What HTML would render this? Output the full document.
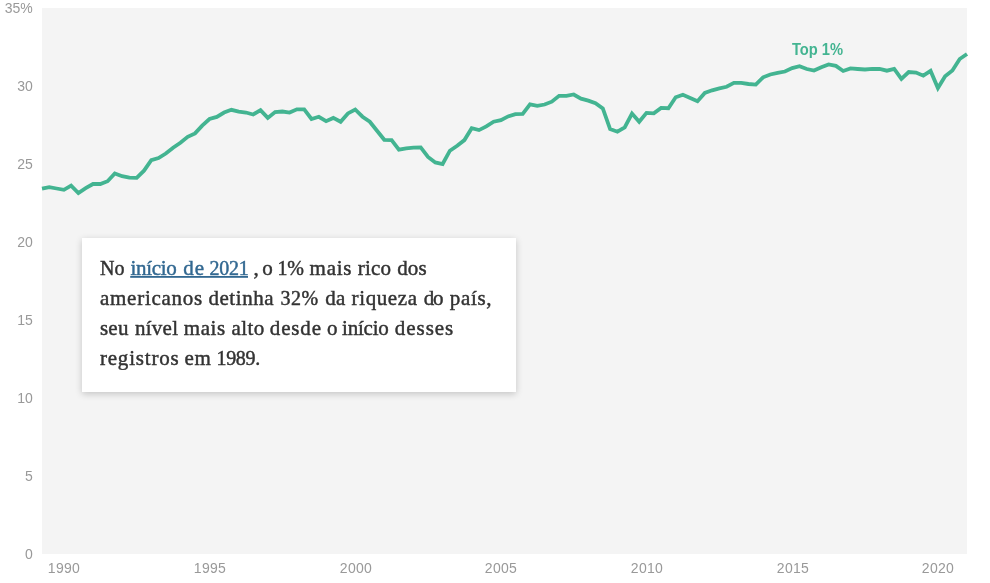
<!DOCTYPE html>
<html><head><meta charset="utf-8"><title>Top 1%</title>
<style>
html,body{margin:0;padding:0;background:#fff;}
body{width:990px;height:583px;position:relative;overflow:hidden;-webkit-font-smoothing:antialiased;font-family:"Liberation Sans",sans-serif;}
#plot{position:absolute;left:42px;top:8px;width:925px;height:546px;background:#f4f4f4;}
.yl{position:absolute;left:0;width:32.8px;text-align:right;font-size:14px;line-height:16px;height:16px;color:#999;margin-top:-8px;}
.xl{position:absolute;top:560px;width:60px;margin-left:-30.35px;text-align:center;font-size:14px;line-height:16px;color:#999;letter-spacing:0.33px;}
svg{position:absolute;left:0;top:0;}
.yl,.xl,#lbl,#ann{will-change:transform;}
#lbl{position:absolute;left:791px;top:40px;font-size:14.5px;line-height:17px;font-weight:bold;color:#43b491;white-space:nowrap;letter-spacing:-0.1px;}
#box{position:absolute;left:82px;top:238px;width:434px;height:154px;background:#fff;box-shadow:0 2px 7px rgba(0,0,0,0.2);}
#ann text{font-family:"Liberation Serif",serif;stroke-width:0.45px;}
#ann #lb{stroke-width:0;}
</style></head><body>
<div id="plot"></div>
<div class="yl" style="top:8px">35%</div>
<div class="yl" style="top:86px">30</div>
<div class="yl" style="top:164px">25</div>
<div class="yl" style="top:242px">20</div>
<div class="yl" style="top:320px">15</div>
<div class="yl" style="top:398px">10</div>
<div class="yl" style="top:476px">5</div>
<div class="yl" style="top:554px">0</div>
<div class="xl" style="left:64.8px">1990</div>
<div class="xl" style="left:210.5px">1995</div>
<div class="xl" style="left:356.1px">2000</div>
<div class="xl" style="left:501.8px">2005</div>
<div class="xl" style="left:647.4px">2010</div>
<div class="xl" style="left:793.1px">2015</div>
<div class="xl" style="left:938.7px">2020</div>
<svg width="990" height="583" viewBox="0 0 990 583"><polyline fill="none" stroke="#43b491" stroke-width="3.8" stroke-linejoin="miter" stroke-linecap="butt" points="42.0,188.7 49.3,187.2 56.6,188.5 63.9,189.8 71.1,185.7 78.4,193.0 85.7,188.2 93.0,184.0 100.3,184.0 107.6,181.2 114.8,173.4 122.1,176.2 129.4,177.6 136.7,177.9 144.0,170.7 151.3,160.2 158.5,158.0 165.8,153.5 173.1,147.7 180.4,142.7 187.7,136.8 195.0,133.4 202.2,125.6 209.5,119.0 216.8,116.9 224.1,112.5 231.4,109.8 238.7,111.7 245.9,112.5 253.2,114.5 260.5,110.1 267.8,117.9 275.1,112.1 282.4,111.5 289.6,112.6 296.9,109.3 304.2,109.3 311.5,119.0 318.8,116.8 326.1,121.2 333.3,117.9 340.6,121.8 347.9,113.4 355.2,109.5 362.5,116.7 369.8,121.7 377.0,130.7 384.3,139.8 391.6,140.1 398.9,149.6 406.2,148.3 413.5,147.7 420.7,147.4 428.0,156.9 435.3,162.4 442.6,164.0 449.9,150.7 457.2,145.7 464.4,140.1 471.7,128.2 479.0,130.1 486.3,126.4 493.6,121.7 500.9,120.1 508.1,116.4 515.4,114.1 522.7,113.8 530.0,104.3 537.3,105.9 544.6,104.5 551.8,101.7 559.1,95.8 566.4,95.8 573.7,94.5 581.0,98.7 588.3,100.6 595.5,103.2 602.8,108.4 610.1,129.1 617.4,131.7 624.7,127.5 632.0,113.5 639.2,121.8 646.5,112.9 653.8,113.3 661.1,107.9 668.4,108.2 675.7,97.3 682.9,94.7 690.2,97.9 697.5,101.2 704.8,92.9 712.1,90.3 719.4,88.3 726.6,86.8 733.9,82.9 741.2,82.9 748.5,84.0 755.8,84.6 763.1,77.3 770.3,74.5 777.6,72.9 784.9,71.5 792.2,68.1 799.5,66.2 806.8,69.0 814.0,70.6 821.3,67.3 828.6,64.5 835.9,65.9 843.2,71.0 850.5,68.4 857.7,69.0 865.0,69.5 872.3,68.8 879.6,69.0 886.9,70.7 894.2,69.0 901.4,78.8 908.7,72.0 916.0,72.6 923.3,75.7 930.6,70.9 937.9,88.0 945.1,76.2 952.4,70.5 959.7,59.0 967.0,54.0"/></svg>
<div id="box"></div>
<svg id="ann" width="990" height="583" viewBox="0 0 990 583">
<text id="lb" x="791.9" y="54.8" font-size="16.1" font-weight="bold" fill="#43b491" textLength="51.2" lengthAdjust="spacingAndGlyphs" style="font-family:'Liberation Sans',sans-serif;stroke:none">Top 1%</text>
<rect x="130.2" y="276" width="117.8" height="1.8" fill="#326891"/>
<text x="99.95" y="274.5" font-size="20" letter-spacing="0.007" fill="#333" stroke="#333">No</text>
<text x="130.40" y="274.5" font-size="21" letter-spacing="-0.285" fill="#326891" stroke="#326891">início</text>
<text x="183.30" y="274.5" font-size="21" letter-spacing="1.000" fill="#326891" stroke="#326891">de</text>
<text x="209.40" y="274.5" font-size="20" letter-spacing="-0.200" fill="#326891" stroke="#326891">2021</text>
<text x="253.50" y="274.5" font-size="21" letter-spacing="0.000" fill="#333" stroke="#333">,</text>
<text x="262.20" y="274.5" font-size="21" letter-spacing="0.000" fill="#333" stroke="#333">o</text>
<text x="277.50" y="274.5" font-size="20" letter-spacing="-0.200" fill="#333" stroke="#333">1%</text>
<text x="309.60" y="274.5" font-size="21" letter-spacing="0.737" fill="#333" stroke="#333">mais</text>
<text x="357.70" y="274.5" font-size="21" letter-spacing="0.217" fill="#333" stroke="#333">rico</text>
<text x="397.30" y="274.5" font-size="21" letter-spacing="0.050" fill="#333" stroke="#333">dos</text>
<text x="99.95" y="304.5" font-size="21" letter-spacing="0.745" fill="#333" stroke="#333">americanos</text>
<text x="208.40" y="304.5" font-size="21" letter-spacing="0.568" fill="#333" stroke="#333">detinha</text>
<text x="280.60" y="304.5" font-size="20" letter-spacing="0.450" fill="#333" stroke="#333">32%</text>
<text x="325.20" y="304.5" font-size="21" letter-spacing="0.300" fill="#333" stroke="#333">da</text>
<text x="351.60" y="304.5" font-size="21" letter-spacing="0.605" fill="#333" stroke="#333">riqueza</text>
<text x="423.80" y="304.5" font-size="21" letter-spacing="-1.200" fill="#333" stroke="#333">do</text>
<text x="449.80" y="304.5" font-size="21" letter-spacing="0.643" fill="#333" stroke="#333">país,</text>
<text x="99.95" y="334.5" font-size="21" letter-spacing="0.228" fill="#333" stroke="#333">seu</text>
<text x="134.90" y="334.5" font-size="21" letter-spacing="0.286" fill="#333" stroke="#333">nível</text>
<text x="183.80" y="334.5" font-size="21" letter-spacing="0.570" fill="#333" stroke="#333">mais</text>
<text x="231.50" y="334.5" font-size="21" letter-spacing="0.403" fill="#333" stroke="#333">alto</text>
<text x="269.80" y="334.5" font-size="21" letter-spacing="0.852" fill="#333" stroke="#333">desde</text>
<text x="326.90" y="334.5" font-size="21" letter-spacing="0.000" fill="#333" stroke="#333">o</text>
<text x="342.00" y="334.5" font-size="21" letter-spacing="-0.205" fill="#333" stroke="#333">início</text>
<text x="394.80" y="334.5" font-size="21" letter-spacing="0.963" fill="#333" stroke="#333">desses</text>
<text x="99.95" y="364.5" font-size="21" letter-spacing="0.800" fill="#333" stroke="#333">registros</text>
<text x="184.40" y="364.5" font-size="21" letter-spacing="0.679" fill="#333" stroke="#333">em</text>
<text x="216.50" y="364.5" font-size="20" letter-spacing="-0.325" fill="#333" stroke="#333">1989.</text>
</svg>
</body></html>
